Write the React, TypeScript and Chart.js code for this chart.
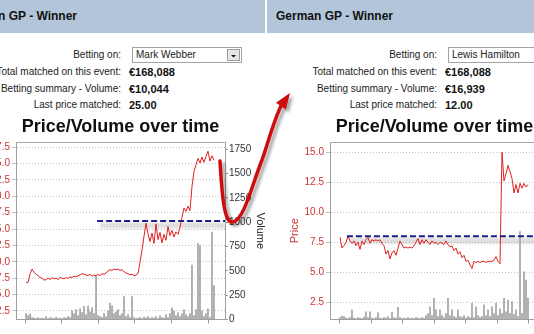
import React, { useEffect, useRef } from "react";
import { Chart, registerables } from "chart.js";

Chart.register(...registerables);

const FONT = '"Liberation Sans", Arial, sans-serif';

// ---------- data ----------
const MARKET = "German GP - Winner";
const CHART_TITLE = "Price/Volume over time";
const FORM_LABELS = ["Betting on:", "Total matched on this event:", "Betting summary - Volume:", "Last price matched:"];
const LEFT_RUNNER = "Mark Webber";
const RIGHT_RUNNER = "Lewis Hamilton";
const LEFT_FACTS = ["€168,088", "€10,044", "25.00"];
const RIGHT_FACTS = ["€168,088", "€16,939", "12.00"];

const LEFT_PRICE_TICKS = [2.5, 5, 7.5, 10, 12.5, 15, 17.5, 20, 22.5, 25, 27.5];
const RIGHT_PRICE_TICKS = [2.5, 5, 7.5, 10, 12.5, 15];
const VOLUME_TICKS = [0, 250, 500, 750, 1000, 1250, 1500, 1750];
const LEFT_DAY_TICKS = [0, 1, 2, 3, 4, 5];
const RIGHT_DAY_TICKS = [0, 1, 2, 3, 4, 5, 6];

// sampling grid (days)
const LEFT_START_DAY = 0.03;
const LEFT_STEP_DAY = 0.0546;
const RIGHT_START_DAY = 0;
const RIGHT_STEP_DAY = 0.0635;

const LEFT_PRICES = [
  6.8, 6.9, 8.2, 8.9, 8.4, 8.1, 7.9, 7.6, 7.5, 7.2,
  7.3, 7.5, 7.3, 7.6, 7.4, 7.5, 7.3, 7.6, 7.5, 7.4,
  7.6, 7.5, 7.7, 7.6, 7.8, 7.7, 7.9, 8.0, 8.2, 8.1,
  8.0, 7.9, 8.1, 7.8, 8.0, 7.9, 8.1, 7.9, 8.2, 8.1,
  8.3, 8.6, 8.8, 8.7, 8.9, 8.8, 8.9, 8.7, 8.8, 8.5,
  8.3, 8.2, 8.0, 8.1, 7.9, 8.0, 8.2, 10.0, 11.8, 13.9,
  15.9, 14.3, 13.1, 14.4, 12.8, 15.8, 13.4, 14.5, 12.9, 14.2,
  13.3, 15.4, 14.0, 14.8, 13.8, 14.6, 14.2, 15.3, 16.8, 18.2,
  17.7, 18.5, 17.8, 21.5, 23.8, 24.8, 25.8, 25.1, 26.0, 25.2,
  26.1, 26.9, 25.4, 26.2, 25.5,
];

const LEFT_VOLUMES = [
  60, 40, 55, 20, 15, 10, 20, 10, 15, 10,
  30, 10, 20, 15, 10, 25, 10, 15, 10, 20,
  15, 30, 20, 90, 60, 100, 40, 110, 70, 135,
  50, 140, 80, 120, 60, 450, 40, 30, 20, 60,
  30, 90, 170, 140, 60, 80, 100, 40, 60, 235,
  30, 50, 20, 235, 20, 10, 15, 20, 10, 25,
  15, 30, 10, 20, 15, 30, 10, 40, 20, 15,
  50, 20, 60, 120, 90, 40, 70, 30, 60, 100,
  50, 30, 60, 560, 40, 100, 780, 760, 90, 30,
  60, 110, 20, 900, 350,
];

const RIGHT_PRICES = [
  7.9, 7.0, 7.2, 7.5, 8.0, 7.6, 7.4, 7.6, 7.2, 7.5,
  6.9, 7.6, 7.3, 7.7, 7.9, 7.4, 7.7, 7.6, 7.7, 7.6,
  7.7, 7.4, 7.2, 6.5, 6.8, 6.1, 6.6, 6.8, 6.4, 7.0,
  7.6, 7.3, 7.0, 7.1, 7.0, 7.1, 7.0, 7.2, 7.5, 7.8,
  7.3, 7.7, 7.4, 7.7, 7.5, 7.3, 7.6, 7.4, 7.5, 7.3,
  7.5, 7.4, 7.3, 7.6, 7.3, 7.1, 7.2, 6.8, 7.0, 6.5,
  6.7, 6.2, 6.4, 5.9, 6.0, 5.6, 5.3, 5.9, 5.8, 5.9,
  5.8, 5.9, 5.9, 5.8, 5.9, 5.9, 5.9, 6.0, 6.3, 5.9,
  5.7, 15.0, 12.6, 13.2, 13.9, 13.4, 12.8, 11.6, 12.3, 11.6,
  12.4, 12.0, 12.4, 12.1, 12.3,
];

const RIGHT_VOLUMES = [
  20, 36, 30, 15, 10, 20, 98, 15, 10, 20,
  15, 10, 25, 80, 20, 80, 15, 10, 20, 70,
  15, 10, 20, 15, 30, 10, 75, 20, 15, 125,
  20, 10, 15, 10, 20, 10, 15, 10, 20, 15,
  10, 20, 15, 40, 60, 130, 40, 218, 100, 30,
  100, 40, 20, 60, 218, 40, 100, 30, 20, 100,
  30, 20, 40, 15, 30, 20, 166, 20, 130, 40,
  20, 30, 150, 40, 100, 30, 130, 60, 166, 40,
  110, 60, 218, 80, 200, 60, 185, 50, 100, 30,
  903, 60, 491, 406, 220,
];

// target price marks (drawn annotation lines)
const LEFT_TARGET_PRICE = 16.25;
const LEFT_TARGET_FROM_DAY = 1.97;
const RIGHT_TARGET_PRICE = 8.0;
const RIGHT_TARGET_FROM_DAY = 0.22;

// ---------- chart ----------
type Spec = {
  left: number; top: number; width: number; height: number;
  priceAxisWidth: number; volAxisWidth: number;
  prices: number[]; volumes: number[]; start: number; step: number;
  priceMin: number; priceMax: number; priceTicks: number[];
  volMax: number; dayMin: number; dayMax: number; dayTicks: number[];
  target: number; targetFrom: number;
  priceTitlePad: number; volTitlePad: number;
};

const framePlugin = {
  id: "frameTop",
  beforeDatasetsDraw(chart: any) {
    const { ctx, chartArea: a } = chart;
    ctx.save();
    ctx.strokeStyle = "#a8a8a8";
    ctx.lineWidth = 1;
    ctx.beginPath();
    ctx.moveTo(a.left, Math.round(a.top) + 0.5);
    ctx.lineTo(a.right, Math.round(a.top) + 0.5);
    ctx.stroke();
    ctx.restore();
  },
};

const bandPlugin = {
  id: "targetBand",
  beforeDatasetsDraw(chart: any, _args: any, opts: any) {
    if (!opts || opts.value == null) return;
    const { ctx, chartArea: a, scales } = chart;
    const y = scales.price.getPixelForValue(opts.value);
    const x0 = scales.x.getPixelForValue(opts.from);
    ctx.save();
    ctx.beginPath();
    ctx.rect(a.left, a.top, a.right - a.left, a.bottom - a.top);
    ctx.clip();
    ctx.filter = "blur(1.2px)";
    ctx.fillStyle = "rgba(0,0,0,0.13)";
    ctx.fillRect(x0 + 3, y + 1.5, a.right - x0 + 10, 6);
    ctx.restore();
  },
};

function PriceVolumeChart({ spec }: { spec: Spec }) {
  const ref = useRef<HTMLCanvasElement | null>(null);
  useEffect(() => {
    const s = spec;
    const pts = s.prices.map((p, i) => ({ x: s.start + s.step * i, y: p }));
    const bars = s.volumes.map((v, i) => ({ x: s.start + s.step * i, y: v }));
    const tickFont = { family: FONT, size: 10 };
    const chart = new Chart(ref.current as HTMLCanvasElement, {
      type: "bar",
      data: {
        datasets: [
          {
            type: "line",
            data: [{ x: s.targetFrom, y: s.target }, { x: s.dayMax, y: s.target }],
            borderColor: "#1c1c8e",
            borderWidth: 2,
            borderDash: [6, 3],
            pointRadius: 0,
            yAxisID: "price",
            order: 0,
          } as any,
          {
            type: "line",
            data: pts,
            borderColor: "#e02020",
            borderWidth: 1,
            pointRadius: 0,
            tension: 0,
            yAxisID: "price",
            order: 1,
          } as any,
          {
            type: "bar",
            data: bars,
            backgroundColor: "#a2a2a2",
            barThickness: 1,
            yAxisID: "vol",
            order: 3,
          } as any,
        ],
      },
      options: {
        responsive: false,
        animation: false,
        devicePixelRatio: 1,
        layout: { padding: 0 },
        plugins: {
          legend: { display: false },
          tooltip: { enabled: false },
          title: {
            display: true,
            text: CHART_TITLE,
            fullSize: false,
            color: "#111",
            font: { family: FONT, size: 18, weight: "bold" },
            padding: { top: 6, bottom: 4.4 },
          },
          targetBand: { value: s.target, from: s.targetFrom },
        } as any,
        scales: {
          x: {
            type: "linear",
            min: s.dayMin,
            max: s.dayMax,
            offset: false,
            afterBuildTicks: (sc: any) => { sc.ticks = s.dayTicks.map((v) => ({ value: v })); },
            afterFit: (sc: any) => { sc.height = 14.5; },
            ticks: { display: false },
            grid: { drawOnChartArea: false, drawTicks: true, tickLength: 4, tickColor: "#9a9a9a", offset: false },
            border: { color: "#a0a0a0" },
          },
          price: {
            type: "linear",
            position: "left",
            min: s.priceMin,
            max: s.priceMax,
            afterBuildTicks: (sc: any) => { sc.ticks = s.priceTicks.map((v) => ({ value: v })); },
            afterFit: (sc: any) => { sc.width = s.priceAxisWidth; },
            ticks: {
              color: "#cc3333",
              font: tickFont,
              padding: 2,
              autoSkip: false,
              callback: (v: any) => Number(v).toFixed(1),
            },
            grid: { color: "#c4c4c4", tickLength: 4, tickColor: "#c0c0c0", tickBorderDash: [] },
            border: { color: "#a0a0a0", dash: [1, 2] },
            title: {
              display: true,
              text: "Price",
              color: "#cc3333",
              font: { family: FONT, size: 11 },
              padding: { top: s.priceTitlePad, bottom: 0 },
            },
          },
          vol: {
            type: "linear",
            position: "right",
            min: 0,
            max: s.volMax,
            afterBuildTicks: (sc: any) => { sc.ticks = VOLUME_TICKS.map((v) => ({ value: v })); },
            afterFit: (sc: any) => { sc.width = s.volAxisWidth; },
            ticks: { color: "#333", font: tickFont, padding: 1, autoSkip: false, callback: (v: any) => String(v) },
            grid: { drawOnChartArea: false, tickLength: 3, tickColor: "#9a9a9a" },
            border: { color: "#a0a0a0" },
            title: {
              display: true,
              text: "Volume",
              color: "#222",
              font: { family: FONT, size: 11 },
              padding: { top: s.volTitlePad, bottom: 0 },
            },
          },
        } as any,
      },
      plugins: [framePlugin, bandPlugin],
    });
    return () => chart.destroy();
  }, [spec]);
  return (
    <canvas
      ref={ref}
      width={spec.width}
      height={spec.height}
      style={{ position: "absolute", left: spec.left, top: spec.top, width: spec.width, height: spec.height, display: "block" }}
    />
  );
}

const LEFT_SPEC: Spec = {
  left: -40, top: 110, width: 308, height: 224,
  priceAxisWidth: 56, volAxisWidth: 43,
  prices: LEFT_PRICES, volumes: LEFT_VOLUMES, start: LEFT_START_DAY, step: LEFT_STEP_DAY,
  priceMin: 1.2, priceMax: 28.3, priceTicks: LEFT_PRICE_TICKS,
  volMax: 1825, dayMin: -0.246, dayMax: 5.464, dayTicks: LEFT_DAY_TICKS,
  target: LEFT_TARGET_PRICE, targetFrom: LEFT_TARGET_FROM_DAY,
  priceTitlePad: 21.4, volTitlePad: 1.4,
};

const RIGHT_SPEC: Spec = {
  left: 0, top: 110, width: 312, height: 224,
  priceAxisWidth: 63, volAxisWidth: 40,
  prices: RIGHT_PRICES, volumes: RIGHT_VOLUMES, start: RIGHT_START_DAY, step: RIGHT_STEP_DAY,
  priceMin: 1.05, priceMax: 15.85, priceTicks: RIGHT_PRICE_TICKS,
  volMax: 1825, dayMin: -0.317, dayMax: 6.318, dayTicks: RIGHT_DAY_TICKS,
  target: RIGHT_TARGET_PRICE, targetFrom: RIGHT_TARGET_FROM_DAY,
  priceTitlePad: 21.4, volTitlePad: 1.4,
};

const ROW_CENTERS = [55, 72, 89, 105];

function Panel(props: {
  left: number; width: number; headerWidth: number; offset: number;
  runner: string; facts: string[]; spec: Spec;
}) {
  const { left, width, headerWidth, offset, runner, facts, spec } = props;
  return (
    <div style={{ position: "absolute", left, top: 0, width, height: 334, overflow: "hidden" }}>
      <div style={{ position: "absolute", left: 0, top: 0, width: headerWidth, height: 33, background: "#b3c6d9" }} />
      <div style={{ position: "absolute", left: offset, top: 0, width: 420, height: 334 }}>
        <div style={{ position: "absolute", left: 9, top: 0, height: 33, lineHeight: "33px", fontWeight: "bold", fontSize: 12, whiteSpace: "nowrap", color: "#111" }}>
          {MARKET}
        </div>
        {FORM_LABELS.map((lab, i) => (
          <div key={lab} style={{ position: "absolute", left: 0, width: 170, top: ROW_CENTERS[i] - 7, height: 14, lineHeight: "14px", fontSize: 10, textAlign: "right", whiteSpace: "nowrap", color: "#222" }}>
            {lab}
          </div>
        ))}
        {facts.map((f, i) => (
          <div key={i} style={{ position: "absolute", left: 178, top: ROW_CENTERS[i + 1] - 7, height: 14, lineHeight: "14px", fontSize: 11, fontWeight: "bold", whiteSpace: "nowrap", color: "#111" }}>
            {f}
          </div>
        ))}
        <div style={{ position: "absolute", left: 181, top: 47, width: 110, height: 16, boxSizing: "border-box", border: "1px solid #a4a4a4", background: "#fff" }}>
          <div style={{ position: "absolute", left: 3, top: 0, lineHeight: "14px", fontSize: 10, color: "#222", whiteSpace: "nowrap" }}>{runner}</div>
          <div style={{ position: "absolute", right: 1, top: 1, width: 13, height: 12, boxSizing: "border-box", border: "1px solid #9c9c9c", background: "#e6e6e6" }}>
            <svg width="11" height="10" style={{ position: "absolute", left: 0, top: 0 }}>
              <polygon points="3,5 8,5 5.5,7.5" fill="#111" />
            </svg>
          </div>
        </div>
      </div>
      <PriceVolumeChart spec={spec} />
    </div>
  );
}

function Arrow() {
  return (
    <svg width={534} height={334} style={{ position: "absolute", left: 0, top: 0, pointerEvents: "none" }}>
      <defs>
        <filter id="arrowShadow" x="-30%" y="-30%" width="160%" height="160%">
          <feDropShadow dx="3" dy="3" stdDeviation="1.6" floodColor="#000" floodOpacity="0.35" />
        </filter>
      </defs>
      <g filter="url(#arrowShadow)">
        <path
          d="M220,161 C222,195 224,224 233,222 C244,220 252,185 262,160 C268,143 274,120 281,106"
          stroke="#cc0a0a"
          strokeWidth={3.5}
          fill="none"
          strokeLinecap="round"
        />
        <polygon points="290,93 276,102.7 285.8,109.5" fill="#cc0a0a" />
      </g>
    </svg>
  );
}

export default function App() {
  useEffect(() => {
    document.body.style.margin = "0";
  }, []);
  return (
    <div style={{ position: "fixed", left: 0, top: 0, width: 534, height: 334, overflow: "hidden", background: "#fff", fontFamily: FONT }}>
      <Panel left={0} width={266} headerWidth={265} offset={-49} runner={LEFT_RUNNER} facts={LEFT_FACTS} spec={LEFT_SPEC} />
      <Panel left={267} width={267} headerWidth={267} offset={0} runner={RIGHT_RUNNER} facts={RIGHT_FACTS} spec={RIGHT_SPEC} />
      <Arrow />
    </div>
  );
}
